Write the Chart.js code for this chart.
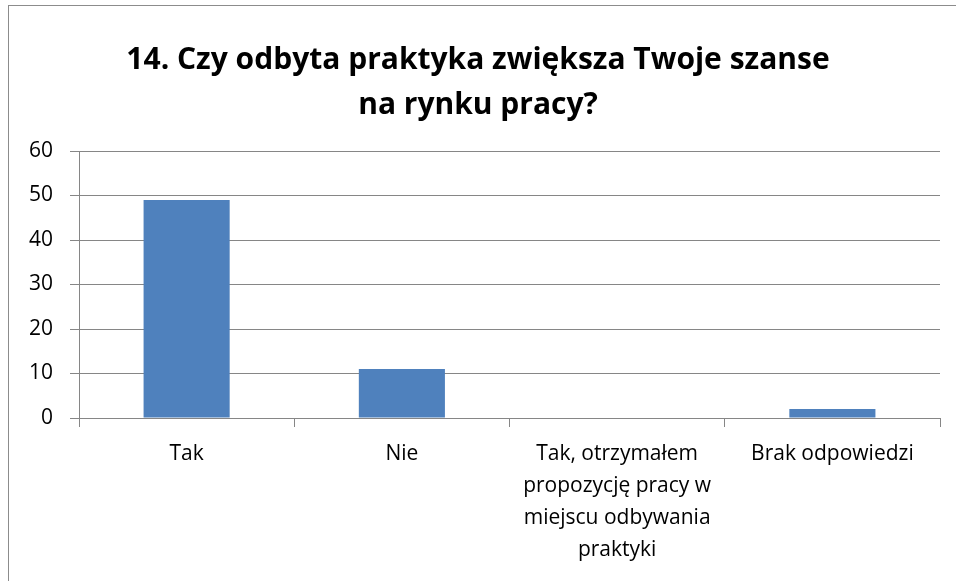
<!DOCTYPE html>
<html><head><meta charset="utf-8">
<script src="https://cdn.jsdelivr.net/npm/chart.js@4/dist/chart.umd.min.js"></script>
<style>
html,body{margin:0;padding:0;background:#fff;}
#wrap{position:relative;width:956px;height:581px;overflow:hidden;}
#frame{position:absolute;left:8px;top:5px;width:970px;height:600px;border:1px solid #8c8c8c;pointer-events:none;}
canvas{position:absolute;left:0;top:0;}
</style></head>
<body>
<div id="wrap"><canvas id="c" width="956" height="581"></canvas><div id="frame"></div></div>
<script>
const titleLines = ["14. Czy odbyta praktyka zwiększa Twoje szanse", "na rynku pracy?"];
const categories = [["Tak"], ["Nie"], ["Tak, otrzymałem", "propozycję pracy w", "miejscu odbywania", "praktyki"], ["Brak odpowiedzi"]];
const values = [49, 11, 0, 2];
const yMin = 0, yMax = 60, yStep = 10;

const FONT = "'Open Sans', sans-serif";
new Chart(document.getElementById('c'), {
  type: 'bar',
  data: {
    labels: categories,
    datasets: [{ data: values, backgroundColor: '#4F81BD', borderWidth: 0, barPercentage: 0.4, categoryPercentage: 1 }]
  },
  options: {
    responsive: false,
    animation: false,
    layout: { padding: { left: 16, right: 16, top: 0, bottom: 0 } },
    plugins: {
      legend: { display: false },
      tooltip: { enabled: false },
      title: {
        display: true, text: titleLines, color: '#000',
        font: { family: FONT, size: 30, weight: 'bold', lineHeight: 1.5 },
        padding: { top: 38, bottom: 23 }
      }
    },
    scales: {
      x: {
        grid: { drawOnChartArea: false, drawTicks: true, tickLength: 9, color: '#868686', offset: true },
        border: { color: '#868686' },
        ticks: { color: '#000', font: { family: FONT, size: 21, lineHeight: 1.52 }, padding: 11, maxRotation: 0, autoSkip: false },
        afterFit: s => { s.height = 581 - 418; }
      },
      y: {
        min: yMin, max: yMax,
        grid: { color: '#868686', tickLength: 9 },
        border: { color: '#868686' },
        ticks: { stepSize: yStep, color: '#000', font: { family: FONT, size: 21 }, padding: 17 },
        afterFit: s => { s.width = 63; }
      }
    }
  }
});
</script>
</body></html>
